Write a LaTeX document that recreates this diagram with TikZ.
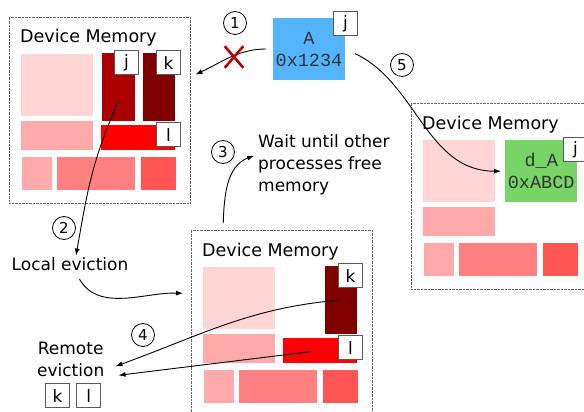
\documentclass[tikz,border=0pt]{standalone}
\usepackage{fontspec}
\setmainfont{DejaVu Sans}
\newfontfamily\codefont{Liberation Mono}
\usepackage{tikz}
\usetikzlibrary{positioning,shapes,arrows.meta}
\definecolor{memlight}{RGB}{255,213,213}
\definecolor{mempink}{RGB}{255,170,170}
\definecolor{memsalmon}{RGB}{255,128,128}
\definecolor{memcoral}{RGB}{255,85,85}
\definecolor{memred}{RGB}{255,0,0}
\definecolor{memdark}{RGB}{170,0,0}
\definecolor{memmaroon}{RGB}{128,0,0}
\definecolor{hostblue}{RGB}{85,180,255}
\definecolor{devgreen}{RGB}{119,212,102}
\definecolor{crossred}{RGB}{192,0,0}
\tikzstyle{mem}=[%
      rectangle, draw=gray!80!black, densely dotted, thin, fill=none,
      minimum width=181pt, minimum height=186pt, inner sep=0pt, outer sep=0pt, anchor=north west
]
\tikzstyle{blk}=[%
      rectangle, draw=none, inner sep=0pt, outer sep=0pt, anchor=north west
]
\tikzstyle{ttl}=[%
      inner sep=0pt, anchor=base west, font=\fontsize{17.5}{21}\selectfont
]
\tikzstyle{tag}=[%
      rectangle, draw=gray!70!black, line width=1.2pt, fill=white,
      minimum width=24pt, minimum height=24pt, inner sep=0pt, anchor=north west,
      font=\fontsize{17}{17}\selectfont
]
\tikzstyle{num}=[%
      circle, draw=black, line width=0.8pt, minimum size=23pt, inner sep=0pt,
      font=\fontsize{15}{15}\selectfont
]
\tikzstyle{txt}=[%
      inner sep=2pt, font=\fontsize{17}{21.7}\selectfont
]
\tikzstyle{code}=[%
      rectangle, draw=none, minimum width=72pt, minimum height=62pt, inner sep=0pt, align=center,
      text=black!80, font=\codefont\fontsize{18.5}{22}\selectfont
]

\begin{document}
\begin{tikzpicture}[x=1pt, y=-1pt,
    -{Latex[length=7pt,width=5pt]}
  ]
    \useasboundingbox (0,0) rectangle (584,412);

    % device memory, left
    \begin{scope}[shift={(9,17)}]
      \node[mem] (m1) at (0,0) {};
      \node[ttl] (m1t) at (11,26) {Device Memory};
      \node[blk, fill=memlight, minimum width=72pt, minimum height=62pt] (m1big) at (12,37) {};
      \node[blk, fill=memdark, minimum width=33pt, minimum height=68pt] (m1j) at (93,36) {};
      \node[blk, fill=memmaroon, minimum width=32pt, minimum height=68pt] (m1k) at (134,36) {};
      \node[blk, fill=mempink, minimum width=72pt, minimum height=29pt] (m1mid) at (12,104) {};
      \node[blk, fill=memred, minimum width=74pt, minimum height=25pt] (m1l) at (92,108) {};
      \node[blk, fill=mempink, minimum width=30pt, minimum height=33pt] (m1a) at (13,140) {};
      \node[blk, fill=memsalmon, minimum width=78pt, minimum height=33pt] (m1b) at (48,140) {};
      \node[blk, fill=memcoral, minimum width=35pt, minimum height=33pt] (m1c) at (132,140) {};
      \node[tag] (t1j) at (105,33) {j};
      \node[tag] (t1k) at (147,33) {k};
      \node[tag] (t1l) at (147,105) {l};
    \end{scope}

    % device memory, right
    \begin{scope}[shift={(411,103)}]
      \node[mem] (m2) at (0,0) {};
      \node[ttl] (m2t) at (11,26) {Device Memory};
      \node[blk, fill=memlight, minimum width=72pt, minimum height=62pt] (m2big) at (12,37) {};
      \node[code, fill=devgreen, anchor=north west] (dA) at (94,37) {d\_A\\0xABCD};
      \node[blk, fill=mempink, minimum width=72pt, minimum height=29pt] (m2mid) at (12,104) {};
      \node[blk, fill=mempink, minimum width=30pt, minimum height=33pt] (m2a) at (13,140) {};
      \node[blk, fill=memsalmon, minimum width=78pt, minimum height=33pt] (m2b) at (48,140) {};
      \node[blk, fill=memcoral, minimum width=35pt, minimum height=33pt] (m2c) at (132,140) {};
      \node[tag] (t2j) at (152,34) {j};
    \end{scope}

    % device memory, bottom
    \begin{scope}[shift={(191,230)}]
      \node[mem] (m3) at (0,0) {};
      \node[ttl] (m3t) at (11,26) {Device Memory};
      \node[blk, fill=memlight, minimum width=72pt, minimum height=62pt] (m3big) at (12,37) {};
      \node[blk, fill=memmaroon, minimum width=32pt, minimum height=68pt] (m3k) at (134,36) {};
      \node[blk, fill=mempink, minimum width=72pt, minimum height=29pt] (m3mid) at (12,104) {};
      \node[blk, fill=memred, minimum width=74pt, minimum height=25pt] (m3l) at (92,108) {};
      \node[blk, fill=mempink, minimum width=30pt, minimum height=33pt] (m3a) at (13,140) {};
      \node[blk, fill=memsalmon, minimum width=78pt, minimum height=33pt] (m3b) at (48,140) {};
      \node[blk, fill=memcoral, minimum width=35pt, minimum height=33pt] (m3c) at (132,140) {};
      \node[tag] (t3k) at (147,33) {k};
      \node[tag] (t3l) at (147,105) {l};
    \end{scope}

    % host buffer
    \node[code, fill=hostblue] (A) at (309,49) {A\\0x1234};
    \node[tag] (tAj) at (333,11) {j};

    \node[num] (n1) at (235,23) {1};
    \node[num] (n2) at (64,228) {2};
    \node[num] (n3) at (223,152) {3};
    \node[num] (n4) at (143,335) {4};
    \node[num] (n5) at (402,65) {5};

    \node[txt, anchor=base] (evL) at (70,270.7) {Local eviction};
    \node[txt, anchor=west, align=left] (wait) at (256,165) {Wait until other\\processes free\\memory};
    \node[txt, align=center] (rem) at (70.7,359.3) {Remote\\eviction};
    \node[tag] (remk) at (45,383) {k};
    \node[tag] (reml) [right=6pt of remk] {l};

    \path[line width=0.9pt]
          (A.west) edge[out=180, in=25, shorten <=7pt, shorten >=6pt] (m1.20)
          (A.east) edge[out=-25, in=180, shorten <=11pt, shorten >=4pt] (dA.west)
          ([yshift=-15pt]m1j.center) edge[out=-115, in=80] ([xshift=6pt]evL.north)
          ([xshift=6pt]evL.south) edge[out=-60, in=178, shorten <=7pt, shorten >=8pt] (m3.162)
          ([xshift=32pt]m3.north west) edge[out=88, in=200, shorten <=7pt, shorten >=2pt] ([yshift=10pt]wait.west)
          (m3k.center) edge[out=185, in=20, shorten <=3pt] ([xshift=9pt, yshift=-7pt]rem.east)
          (m3l.center) edge[shorten <=9pt] ([xshift=12pt, yshift=-16pt]rem.east)
    ;

    \node[cross out, draw=crossred, line width=2.6pt, minimum width=16pt, minimum height=19pt, inner sep=0pt] (xmark) at (234,57) {};

  \end{tikzpicture}
\end{document}
